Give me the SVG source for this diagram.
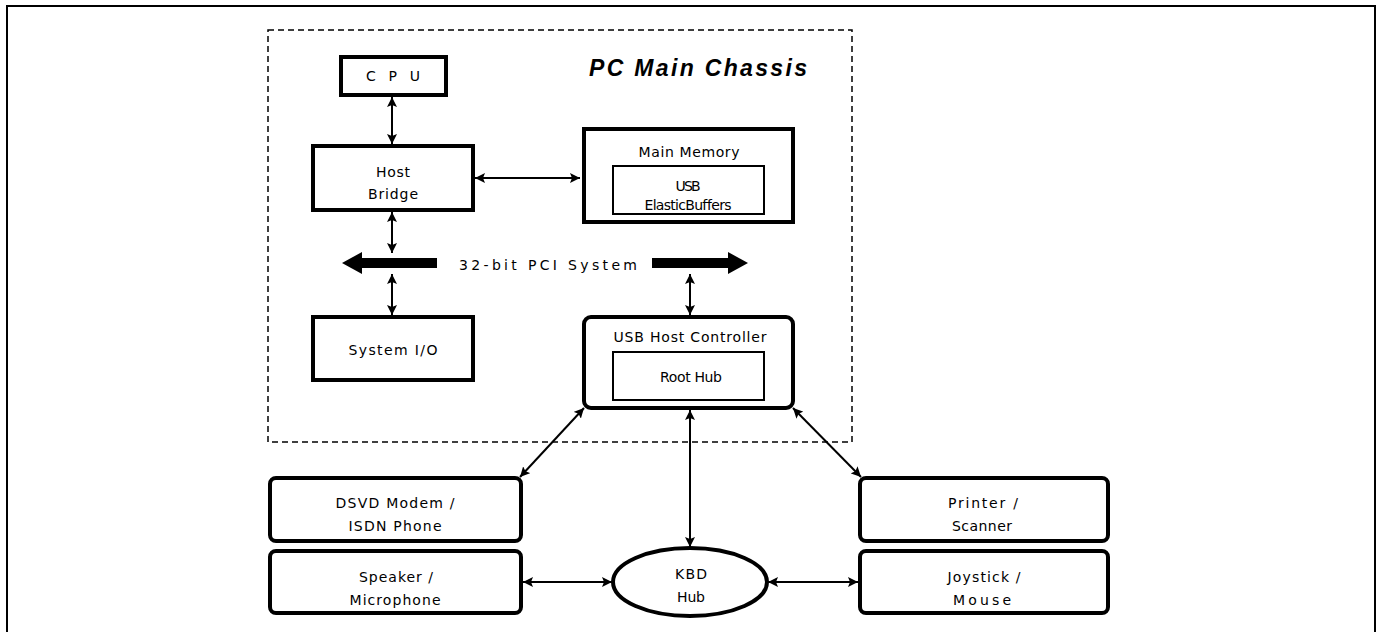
<svg xmlns="http://www.w3.org/2000/svg" width="1380" height="632" viewBox="0 0 1380 632">
<style>
.box{fill:#fff;stroke:#000;stroke-width:4}
.inner{fill:#fff;stroke:#000;stroke-width:2}
.lbl{font-family:"DejaVu Sans","Liberation Sans",Arial,sans-serif;font-size:14px;fill:#000;text-anchor:middle;dominant-baseline:central}
.conn{stroke:#000;stroke-width:2;fill:none;marker-start:url(#ah);marker-end:url(#ah)}
</style>
<defs>
<marker id="ah" viewBox="0 0 10 10" refX="10" refY="5" markerWidth="10" markerHeight="10" markerUnits="userSpaceOnUse" orient="auto-start-reverse">
<path d="M0,0 L10,5 L0,10 L2,5 Z" fill="#000"/>
</marker>
</defs>
<rect width="1380" height="632" fill="#fff"/>
<g id="frame"><path d="M7,640 V6 H1375 V640" fill="none" stroke="#000" stroke-width="2"/></g>
<g id="chassis">
<rect x="268" y="30" width="584" height="412" fill="none" stroke="#000" stroke-width="1.5" stroke-dasharray="6,4"/>
<text x="698" y="68" font-family="Liberation Sans,Arial,sans-serif" font-size="23" font-weight="bold" font-style="italic" text-anchor="middle" dominant-baseline="central" textLength="218" lengthAdjust="spacing">PC Main Chassis</text>
</g>
<g id="connectors">
<line class="conn" x1="392" y1="97" x2="392" y2="144"/>
<line class="conn" x1="392" y1="212" x2="392" y2="253"/>
<line class="conn" x1="392" y1="274" x2="392" y2="315"/>
<line class="conn" x1="690" y1="274" x2="690" y2="315"/>
<line class="conn" x1="475" y1="178" x2="580" y2="178"/>
<line class="conn" x1="584" y1="408" x2="520" y2="477"/>
<line class="conn" x1="793" y1="408" x2="861" y2="477"/>
<line class="conn" x1="690" y1="410" x2="690" y2="547"/>
<line class="conn" x1="523" y1="582" x2="612" y2="582"/>
<line class="conn" x1="768" y1="582" x2="858" y2="582"/>
</g>
<g id="pci-bus">
<rect x="360" y="258" width="77" height="10" fill="#000"/>
<polygon points="342,263 362,252 362,274" fill="#000"/>
<rect x="652" y="258" width="78" height="10" fill="#000"/>
<polygon points="748,263 728,252 728,274" fill="#000"/>
<text class="lbl" x="548" y="265" font-size="18" textLength="178" lengthAdjust="spacing">32-bit PCI System</text>
</g>
<g id="cpu">
<rect class="box" x="341" y="57" width="105" height="38"/>
<text class="lbl" x="393" y="76" textLength="54" lengthAdjust="spacing">CPU</text>
</g>
<g id="host-bridge">
<rect class="box" x="313" y="146" width="160" height="64"/>
<text class="lbl" x="393" y="172" textLength="34" lengthAdjust="spacing">Host</text>
<text class="lbl" x="393" y="194" textLength="50" lengthAdjust="spacing">Bridge</text>
</g>
<g id="main-memory">
<rect class="box" x="584" y="129" width="209" height="93"/>
<text class="lbl" x="689" y="152" textLength="101" lengthAdjust="spacing">Main Memory</text>
<rect class="inner" x="613" y="166" width="151" height="48"/>
<text class="lbl" x="688" y="186" font-size="11" textLength="25" lengthAdjust="spacing">USB</text>
<text class="lbl" x="688" y="205" font-size="11" textLength="87" lengthAdjust="spacing">ElasticBuffers</text>
</g>
<g id="system-io">
<rect class="box" x="313" y="317" width="160" height="63"/>
<text class="lbl" x="393" y="350" textLength="89" lengthAdjust="spacing">System I/O</text>
</g>
<g id="usb-host-controller">
<rect class="box" x="584" y="317" width="209" height="91" rx="7"/>
<text class="lbl" x="690" y="337" textLength="153" lengthAdjust="spacing">USB Host Controller</text>
<rect class="inner" x="613" y="352" width="151" height="48"/>
<text class="lbl" x="691" y="377" textLength="62" lengthAdjust="spacing">Root Hub</text>
</g>
<g id="dsvd-modem">
<rect class="box" x="270" y="478" width="251" height="63" rx="6"/>
<text class="lbl" x="395" y="503" textLength="119" lengthAdjust="spacing">DSVD Modem /</text>
<text class="lbl" x="395" y="526" textLength="93" lengthAdjust="spacing">ISDN Phone</text>
</g>
<g id="speaker">
<rect class="box" x="270" y="551" width="251" height="62" rx="6"/>
<text class="lbl" x="396" y="577" textLength="74" lengthAdjust="spacing">Speaker /</text>
<text class="lbl" x="395" y="600" textLength="91" lengthAdjust="spacing">Microphone</text>
</g>
<g id="kbd-hub">
<ellipse cx="690" cy="582" rx="77" ry="34" fill="#fff" stroke="#000" stroke-width="4"/>
<text class="lbl" x="691" y="574" textLength="32" lengthAdjust="spacing">KBD</text>
<text class="lbl" x="691" y="597" textLength="28" lengthAdjust="spacing">Hub</text>
</g>
<g id="printer">
<rect class="box" x="860" y="478" width="248" height="63" rx="6"/>
<text class="lbl" x="983" y="503" textLength="70" lengthAdjust="spacing">Printer /</text>
<text class="lbl" x="982" y="526" textLength="60" lengthAdjust="spacing">Scanner</text>
</g>
<g id="joystick">
<rect class="box" x="860" y="551" width="248" height="62" rx="6"/>
<text class="lbl" x="984" y="577" textLength="73" lengthAdjust="spacing">Joystick /</text>
<text class="lbl" x="982" y="600" textLength="58" lengthAdjust="spacing">Mouse</text>
</g>
</svg>
